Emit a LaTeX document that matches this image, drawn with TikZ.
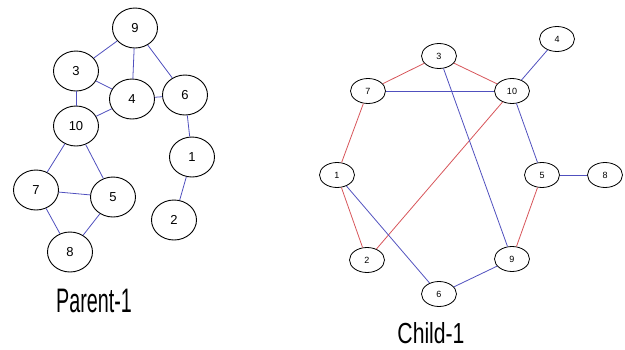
\documentclass[tikz,border=0pt]{standalone}
\usepackage{fontspec}
\setmainfont{Liberation Sans}
\usetikzlibrary{shapes.geometric}
\definecolor{eblue}{RGB}{80,80,190}
\definecolor{ered}{RGB}{215,85,90}
\begin{document}
\begin{tikzpicture}[x=1pt,y=-1pt,
  pnode/.style={draw=black,line width=0.9pt,ellipse,minimum width=45pt,minimum height=40pt,inner sep=0pt,font=\fontsize{13}{13}\selectfont},
  cnode/.style={draw=black,line width=0.8pt,ellipse,minimum width=35pt,minimum height=25pt,inner sep=0pt,font=\fontsize{9}{9}\selectfont},
  bedge/.style={draw=eblue,line width=0.8pt},
  redge/.style={draw=ered,line width=0.8pt},
  title/.style={font=\fontsize{34}{34}\selectfont,inner sep=0pt}]
\useasboundingbox (0,0) rectangle (625,349);
% Parent
\node[pnode] (p9) at (135,28) {9};
\node[pnode] (p3) at (76,71) {3};
\node[pnode] (p4) at (132,99) {4};
\node[pnode] (p6) at (185,95) {6};
\node[pnode] (p10) at (76,126) {10};
\node[pnode] (p1) at (192,157) {1};
\node[pnode] (p7) at (36,190) {7};
\node[pnode] (p5) at (113,197) {5};
\node[pnode] (p2) at (174,220) {2};
\node[pnode] (p8) at (70,252) {8};
\foreach \a/\b in {p9/p3,p9/p4,p9/p6,p3/p4,p3/p10,p4/p10,p4/p6,p6/p1,p1/p2,p10/p7,p10/p5,p7/p5,p7/p8,p5/p8}
  \draw[bedge] (\a) -- (\b);
\node[title,xscale=0.58] (pt) at (94,301) {Parent-1};
% Child
\node[cnode] (c4) at (557,39) {4};
\node[cnode] (c3) at (439,56) {3};
\node[cnode] (c7) at (368,91) {7};
\node[cnode] (c10) at (512,91) {10};
\node[cnode] (c1) at (337,175) {1};
\node[cnode] (c5) at (542,175) {5};
\node[cnode] (c8) at (605,175) {8};
\node[cnode] (c2) at (367,260) {2};
\node[cnode] (c9) at (512,259) {9};
\node[cnode] (c6) at (439,294) {6};
\foreach \a/\b in {c3/c7,c3/c10,c7/c1,c1/c2,c2/c10,c5/c9}
  \draw[redge] (\a) -- (\b);
\foreach \a/\b in {c7/c10,c10/c4,c10/c5,c3/c9,c1/c6,c6/c9,c5/c8}
  \draw[bedge] (\a) -- (\b);
\node[title,font=\fontsize{29}{29}\selectfont,xscale=0.73] (ct) at (431,333) {Child-1};
\end{tikzpicture}
\end{document}
